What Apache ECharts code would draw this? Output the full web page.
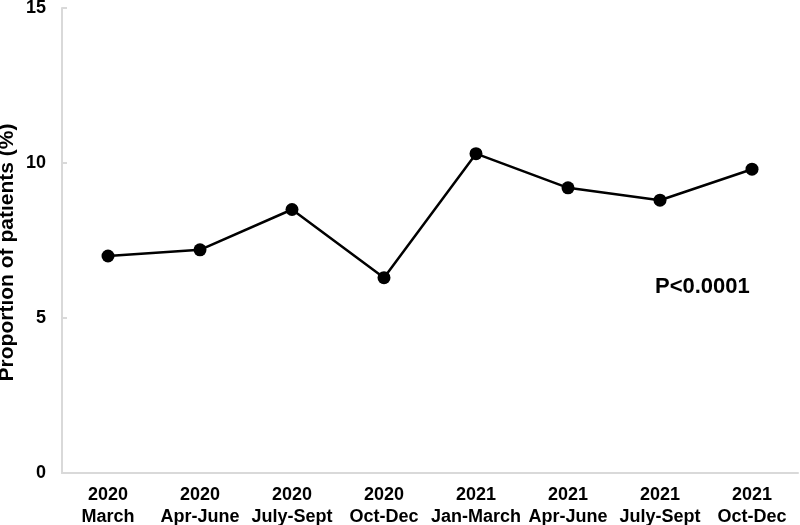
<!DOCTYPE html>
<html>
<head>
<meta charset="utf-8">
<script src="https://cdn.jsdelivr.net/npm/echarts@6/dist/echarts.min.js"></script>
<style>html,body{margin:0;padding:0;background:#fff}#c{width:800px;height:525px}</style>
</head>
<body>
<div id="c"></div>
<script>
var categories = ['2020\nMarch','2020\nApr-June','2020\nJuly-Sept','2020\nOct-Dec','2021\nJan-March','2021\nApr-June','2021\nJuly-Sept','2021\nOct-Dec'];
var values = [7.0, 7.2, 8.5, 6.3, 10.3, 9.2, 8.8, 9.8];
var yTitle = 'Proportion of patients (%)';
var pText = 'P<0.0001';

var chart = echarts.init(document.getElementById('c'));
chart.setOption({
  animation: false,
  grid: {left: 62, right: 2, top: 8, bottom: 52, containLabel: false, outerBoundsMode: 'none'},
  textStyle: {fontFamily: 'Liberation Sans, Arial, sans-serif'},
  xAxis: {
    type: 'category',
    data: categories,
    boundaryGap: true,
    axisLine: {lineStyle: {color: '#d9d9d9', width: 2}},
    axisTick: {show: false},
    axisLabel: {color: '#000', fontWeight: 'bold', fontSize: 18, lineHeight: 22, margin: 11, interval: 0, fontFamily: 'Liberation Sans'}
  },
  yAxis: {
    type: 'value',
    min: 0, max: 15, interval: 5,
    name: yTitle,
    nameLocation: 'middle',
    nameGap: 44,
    nameMoveOverlap: false,
    nameTextStyle: {color: '#000', fontWeight: 'bold', fontSize: 21, fontFamily: 'Liberation Sans', padding: [0, 24, 0, 0]},
    axisLine: {show: true, lineStyle: {color: '#d9d9d9', width: 2}},
    axisTick: {show: true, length: 5, inside: true, lineStyle: {color: '#d9d9d9', width: 2}},
    splitLine: {show: false},
    axisLabel: {color: '#000', fontWeight: 'bold', fontSize: 18, margin: 16, fontFamily: 'Liberation Sans'}
  },
  series: [{
    type: 'line',
    data: values,
    symbol: 'circle',
    symbolSize: 13,
    lineStyle: {color: '#000', width: 2.5},
    itemStyle: {color: '#000'}
  }],
  graphic: [{
    type: 'text',
    left: 655, top: 276,
    style: {text: pText, fill: '#000', font: 'bold 22px "Liberation Sans", Arial, sans-serif'}
  }]
});
</script>
</body>
</html>
